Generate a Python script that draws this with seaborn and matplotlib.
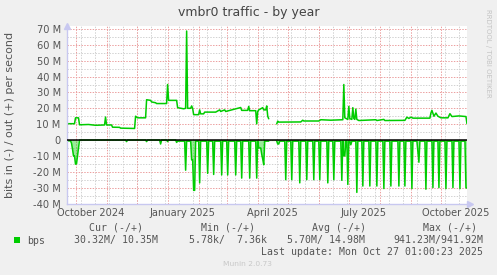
import numpy as np
import pandas as pd
import matplotlib
matplotlib.use("Agg")
import matplotlib.pyplot as plt
from matplotlib.patches import Rectangle
from matplotlib.ticker import FixedLocator, MultipleLocator
import seaborn as sns

# ---------------- data ----------------
title = "vmbr0 traffic - by year"
y_label = "bits in (-) / out (+) per second"
series_name = "bps"

# out (+) traffic, Mbit/s ; None marks the gap in the data
out_dates = [
    "2024-09-23", "2024-09-30", "2024-10-01", "2024-10-04", "2024-10-05", "2024-10-14",
    "2024-10-21", "2024-10-30", "2024-10-31", "2024-11-01", "2024-11-06", "2024-11-07",
    "2024-11-14", "2024-11-15", "2024-11-29", "2024-11-30", "2024-12-02", "2024-12-10",
    "2024-12-11", "2024-12-15", "2024-12-16", "2024-12-20", "2024-12-21", "2024-12-31",
    "2025-01-01", "2025-01-02", "2025-01-10", "2025-01-11", "2025-01-17", "2025-01-19",
    "2025-01-20", "2025-01-21", "2025-01-24", "2025-01-25", "2025-01-26", "2025-01-27",
    "2025-02-01", "2025-02-02", "2025-02-03", "2025-02-06", "2025-02-07", "2025-02-18",
    "2025-02-22", "2025-02-23", "2025-02-27", "2025-02-28", "2025-03-15", "2025-03-16",
    "2025-03-22", "2025-03-23", "2025-03-24", "2025-03-30", "2025-03-31", "2025-04-01",
    "2025-04-02", "2025-04-06", "2025-04-07", "2025-04-09", "2025-04-10", "2025-04-11",
    "2025-04-12", "2025-04-15", "2025-04-20", "2025-04-21", "2025-04-22", "2025-05-14",
    "2025-05-16", "2025-05-17", "2025-06-01", "2025-06-03", "2025-06-13", "2025-06-25",
    "2025-06-26", "2025-06-27", "2025-06-30", "2025-07-01", "2025-07-02", "2025-07-04",
    "2025-07-05", "2025-07-06", "2025-07-07", "2025-07-08", "2025-07-09", "2025-07-11",
    "2025-07-28", "2025-07-29", "2025-08-05", "2025-08-06", "2025-08-26", "2025-08-28",
    "2025-08-30", "2025-09-01", "2025-09-03", "2025-09-20", "2025-09-21", "2025-09-22",
    "2025-09-24", "2025-09-26", "2025-09-28", "2025-10-01", "2025-10-08", "2025-10-10",
    "2025-10-12", "2025-10-19", "2025-10-26", "2025-10-27",
]
out_values = [
    10.3, 10.3, 14.0, 14.0, 9.6, 9.8,
    9.3, 9.5, 14.5, 9.5, 9.5, 8.1,
    8.0, 7.5, 7.3, 15.0, 14.0, 14.0,
    25.4, 25.0, 24.0, 23.5, 23.0, 23.0,
    35.0, 25.0, 25.0, 20.4, 19.7, 20.0,
    68.7, 20.0, 20.0, 21.5, 20.0, 16.0,
    16.0, 19.0, 16.5, 16.5, 17.6, 17.6,
    19.0, 18.0, 19.0, 18.0, 20.5, 18.7,
    18.7, 21.2, 18.5, 18.5, 10.2, 18.0,
    19.0, 20.4, 19.0, 19.0, 21.5, 15.0,
    13.4, None, 10.2, 11.9, 11.3, 11.4,
    12.5, 12.0, 12.0, 12.8, 12.5, 12.8,
    35.0, 14.0, 13.0, 21.2, 13.5, 13.0,
    20.4, 13.5, 13.0, 19.5, 13.0, 12.3,
    12.8, 12.3, 13.0, 12.3, 12.4, 14.4,
    13.6, 14.4, 13.8, 13.8, 17.0, 18.7,
    15.0, 17.0, 15.0, 14.0, 14.0, 16.6,
    14.8, 15.2, 14.8, 10.35,
]

# in (-) traffic, Mbit/s: daily level, baseline plus the dips
in_base_dates = ["2024-09-23", "2025-01-11"]
in_base_values = [0.0, -0.7]
in_gap = ("2025-04-13", "2025-04-19")
in_dip_dates = [
    "2024-09-23", "2024-09-24", "2024-09-25", "2024-09-26", "2024-09-27", "2024-09-28",
    "2024-09-29", "2024-09-30", "2024-10-01", "2024-10-02", "2024-10-03", "2024-10-04",
    "2024-11-21", "2024-12-11", "2024-12-25", "2025-01-01", "2025-01-10",
    "2025-01-19", "2025-01-25", "2025-01-26", "2025-01-27", "2025-01-28",
    "2025-02-02", "2025-02-10", "2025-02-16", "2025-02-24", "2025-03-02", "2025-03-10",
    "2025-03-16", "2025-03-24", "2025-03-31",
    "2025-04-02", "2025-04-03", "2025-04-04", "2025-04-05", "2025-04-06", "2025-04-07",
    "2025-04-21", "2025-04-22",
    "2025-04-29", "2025-05-05", "2025-05-13", "2025-05-20", "2025-05-27", "2025-06-02",
    "2025-06-10", "2025-06-16", "2025-06-24", "2025-06-26", "2025-06-27", "2025-06-30",
    "2025-07-03", "2025-07-09", "2025-07-15", "2025-07-22", "2025-07-29", "2025-08-05",
    "2025-08-12", "2025-08-20", "2025-08-26", "2025-09-02", "2025-09-08", "2025-09-09",
    "2025-09-16", "2025-09-23", "2025-09-29", "2025-10-06", "2025-10-13", "2025-10-20",
    "2025-10-26", "2025-10-27",
]
in_dip_values = [
    -0.5, -0.5, -0.5, -0.5, -2.0, -5.7,
    -10.0, -10.0, -15.2, -15.0, -10.0, -4.6,
    -1.0, -1.0, -2.5, -1.0, -1.5,
    -19.0, -12.5, -12.5, -31.7, -31.7,
    -27.0, -21.0, -21.7, -22.0, -22.0, -22.0,
    -24.0, -24.0, -24.0,
    -5.0, -5.0, -5.0, -9.0, -12.0, -15.6,
    -2.5, -2.5,
    -25.0, -25.0, -27.0, -25.0, -25.0, -25.0,
    -27.0, -25.0, -25.4, -10.0, -10.0, -28.0,
    -3.0, -33.0, -29.0, -29.0, -29.0, -30.6,
    -29.0, -29.0, -29.0, -30.6, -7.0, -14.0,
    -31.0, -30.0, -30.0, -30.6, -30.0, -30.6,
    -30.0, -30.32,
]

y_ticks = [-40, -30, -20, -10, 0, 10, 20, 30, 40, 50, 60, 70]
y_tick_labels = ["-40 M", "-30 M", "-20 M", "-10 M", "0", "10 M", "20 M",
                 "30 M", "40 M", "50 M", "60 M", "70 M"]
x_tick_dates = ["2024-10-16", "2025-01-16", "2025-04-16", "2025-07-16", "2025-10-16"]
x_tick_labels = ["October 2024", "January 2025", "April 2025", "July 2025", "October 2025"]

legend_headers = ["Cur (-/+)", "Min (-/+)", "Avg (-/+)", "Max (-/+)"]
legend_values = ["30.32M/ 10.35M", "5.78k/  7.36k", "5.70M/ 14.98M", "941.23M/941.92M"]
last_update = "Last update: Mon Oct 27 01:00:23 2025"
footer = "Munin 2.0.73"
watermark = "RRDTOOL / TOBI OETIKER"

x_start = "2024-09-22 12:00"
x_end = "2025-10-27 01:00"

# ---------------- styling ----------------
W, H = 497, 275
GREEN = "#00cc00"
MAJOR = "#eca0a0"
MINOR = "#d2d2d2"
AXIS = "#c8c8f0"
TEXT = "#555555"
DOT = (0, (1.4, 1.4))

sns.set_style("white")
plt.rcParams["font.family"] = ["DejaVu Sans"]

fig = plt.figure(figsize=(W / 100, H / 100), dpi=100)
fig.patch.set_facecolor("#f0f0f0")
ax_top, ax_bot = 25.8, 203.5
ax = fig.add_axes([67 / W, 1 - ax_bot / H, 400 / W, (ax_bot - ax_top) / H])
ax.set_facecolor("white")

# ---- out series
df_out = pd.DataFrame({"date": pd.to_datetime(out_dates),
                       "value": pd.to_numeric(pd.Series(out_values, dtype="float"))})
df_out["seg"] = df_out["value"].isna().cumsum()
df_out = df_out.dropna()

# ---- in series on a daily grid
days = pd.date_range(in_base_dates[0], x_end[:10], freq="D")
base = pd.Series(in_base_values, index=pd.to_datetime(in_base_dates)).reindex(days, method="ffill")
in_vals = base.copy()
in_vals.loc[pd.to_datetime(in_dip_dates)] = in_dip_values
in_vals.loc[pd.Timestamp(in_gap[0]):pd.Timestamp(in_gap[1])] = np.nan
df_in = pd.DataFrame({"date": days, "value": in_vals.values})
df_in["seg"] = df_in["value"].isna().cumsum()
df_in = df_in.dropna()

# grid
for d in pd.date_range("2024-10-01", "2025-10-01", freq="MS"):
    ax.axvline(d, color=MAJOR, lw=0.72, ls=DOT, zorder=0.6)
for d in pd.date_range("2024-10-06", "2025-10-26", freq="14D"):
    ax.axvline(d, color=MINOR, lw=0.72, ls=DOT, zorder=0.5)
ax.yaxis.set_major_locator(FixedLocator(y_ticks))
ax.yaxis.set_minor_locator(MultipleLocator(5))
ax.grid(False)
ax.grid(True, which="minor", axis="y", color=MINOR, lw=0.72, ls=DOT, zorder=0.5)
ax.grid(True, which="major", axis="y", color=MAJOR, lw=0.72, ls=DOT, zorder=0.6)
ax.set_axisbelow(True)

# fill for the negative spikes
ax.fill_between(df_in["date"], df_in["value"], 0, where=df_in["value"] < 0,
                color=GREEN, alpha=0.4, lw=0, zorder=1.5)
sns.lineplot(data=df_in, x="date", y="value", units="seg", estimator=None,
             color=GREEN, lw=1.1, ax=ax, legend=False, zorder=2)
sns.lineplot(data=df_out, x="date", y="value", units="seg", estimator=None,
             color=GREEN, lw=1.1, ax=ax, legend=False, zorder=2)
ax.axhline(0, color="black", lw=1.1, zorder=3)

ax.set_xlim(pd.Timestamp(x_start), pd.Timestamp(x_end))
ax.set_ylim(-40, 72)
ax.set_yticks(y_ticks)
ax.set_yticklabels(y_tick_labels)
ax.set_xticks(pd.to_datetime(x_tick_dates))
ax.set_xticklabels(x_tick_labels)
ax.tick_params(axis="both", which="both", length=0, labelsize=7.1, colors=TEXT)
ax.tick_params(axis="y", pad=4.5)
ax.tick_params(axis="x", pad=3.0)
ax.set_xlabel("")
ax.set_ylabel("")

for s in ["top", "right"]:
    ax.spines[s].set_visible(False)
for s in ["left", "bottom"]:
    ax.spines[s].set_color(AXIS)
    ax.spines[s].set_linewidth(1.0)
ax.plot([0], [1.0], marker="^", ms=4.5, color=AXIS, transform=ax.transAxes, clip_on=False)
ax.plot([1.008], [0], marker=">", ms=4.5, color=AXIS, transform=ax.transAxes, clip_on=False)

# texts
fig.text(248.5 / W, 1 - 12.5 / H, title, ha="center", va="center", fontsize=9, color="#444444")
fig.text(10 / W, 1 - 115 / H, y_label, ha="center", va="center", rotation=90,
         fontsize=8, color=TEXT)
fig.text(488 / W, 1 - 53 / H, watermark, ha="center", va="center", rotation=270,
         fontsize=5, color="#c4c4c4")

mono = dict(family="DejaVu Sans Mono", fontsize=7.15, color=TEXT, va="center")
header_left = [89, 201, 312, 423]
value_right = [158, 267, 365, 483]
for hx, htxt in zip(header_left, legend_headers):
    fig.text(hx / W, 1 - 228 / H, htxt, ha="left", **mono)
for vx, vtxt in zip(value_right, legend_values):
    fig.text(vx / W, 1 - 240.5 / H, vtxt, ha="right", **mono)
fig.text(27 / W, 1 - 240.5 / H, series_name, ha="left", **mono)
fig.patches.append(Rectangle((14 / W, 1 - 243 / H), 6 / W, 6 / H, transform=fig.transFigure,
                             facecolor=GREEN, edgecolor="none"))
fig.text(483 / W, 1 - 252 / H, last_update, ha="right", **mono)
fig.text(247.5 / W, 1 - 264 / H, footer, ha="center", va="center", fontsize=5.4, color="#c8c8c8")

fig.savefig("out.png", dpi=100, facecolor=fig.get_facecolor())
